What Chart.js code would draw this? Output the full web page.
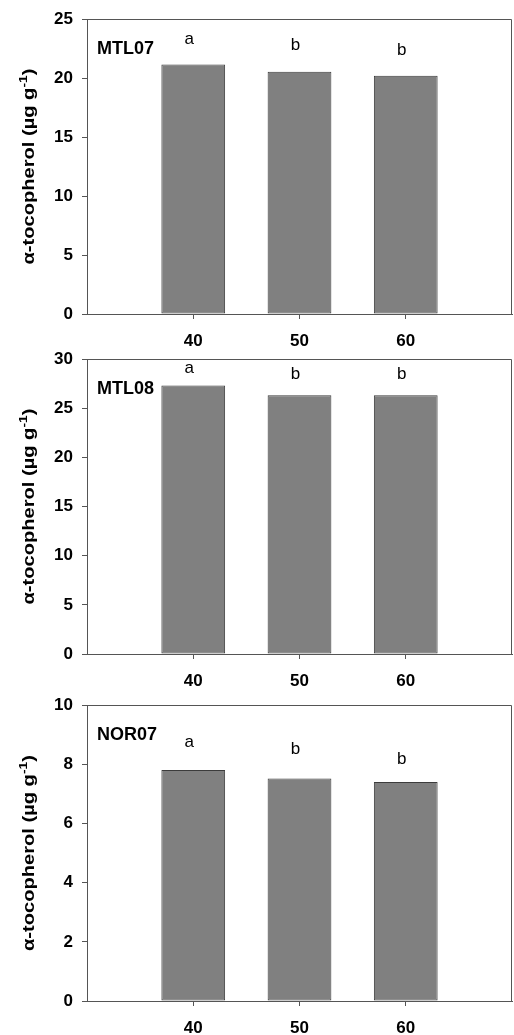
<!DOCTYPE html>
<html><head><meta charset="utf-8">
<script src="https://cdn.jsdelivr.net/npm/chart.js@4/dist/chart.umd.min.js"></script>
<style>
html,body{margin:0;padding:0;background:#fff;}
body{width:514px;height:1035px;position:relative;overflow:hidden;}
canvas{position:absolute;left:0;}
</style></head>
<body>
<canvas id="c1" width="514" height="350" style="top:0px"></canvas>
<canvas id="c2" width="514" height="350" style="top:340px"></canvas>
<canvas id="c3" width="514" height="349" style="top:686px"></canvas>
<script>
// ---- data ----
const categories = [40, 50, 60];
const xTickLabels = ['40', '50', '60'];
const mtl07 = [21.15, 20.54, 20.2];
const mtl08 = [27.33, 26.32, 26.32];
const nor07 = [7.81, 7.52, 7.40];
const letters07 = ['a', 'b', 'b'];
const letters08 = ['a', 'b', 'b'];
const lettersN07 = ['a', 'b', 'b'];
const yTicks07 = [0, 5, 10, 15, 20, 25];
const yTicks08 = [0, 5, 10, 15, 20, 25, 30];
const yTicksN07 = [0, 2, 4, 6, 8, 10];
// letter anchor heights (in data units)
const letterY07 = [23.3, 22.8, 22.4];
const letterY08 = [29.1, 28.5, 28.5];
const letterYN07 = [8.74, 8.51, 8.17];

const FONT = "'Liberation Sans', Arial, Helvetica, sans-serif";
const AXIS = '#555';

const framePlugin = {
  id: 'frame',
  afterDraw(chart, args, opts) {
    const {ctx, chartArea: a, scales} = chart;
    ctx.save();
    // top and right frame lines
    ctx.strokeStyle = AXIS; ctx.lineWidth = 1;
    ctx.beginPath();
    ctx.moveTo(a.left, Math.round(a.top) + 0.5);
    ctx.lineTo(Math.round(a.right) - 0.5, Math.round(a.top) + 0.5);
    ctx.lineTo(Math.round(a.right) - 0.5, a.bottom);
    ctx.stroke();
    // panel label
    ctx.fillStyle = '#000';
    ctx.font = 'bold 18px ' + FONT;
    ctx.textAlign = 'left'; ctx.textBaseline = 'middle';
    ctx.fillText(opts.panel, a.left + 10, a.top + 30);
    // significance letters
    ctx.font = '17px ' + FONT;
    ctx.textAlign = 'center';
    opts.letters.forEach((t, i) => {
      const x = scales.x.getPixelForValue(categories[i]) - 4;
      const y = scales.y.getPixelForValue(opts.letterY[i]);
      ctx.fillText(t, x, y);
    });
    // y axis title with superscript
    const cy = (a.top + a.bottom) / 2;
    ctx.translate(30, cy);
    ctx.rotate(-Math.PI / 2);
    const main = 'α-tocopherol (µg g';
    const sup = '-1';
    const end = ')';
    const fMain = 'bold 16px ' + FONT, fSup = 'bold 11px ' + FONT;
    ctx.font = fMain; const w1 = ctx.measureText(main).width; const w3 = ctx.measureText(end).width;
    ctx.font = fSup; const w2 = ctx.measureText(sup).width;
    const total = w1 + w2 + w3;
    ctx.scale(196 / total, 1);
    let x0 = -total / 2;
    ctx.textAlign = 'left'; ctx.textBaseline = 'middle';
    ctx.font = fMain; ctx.fillText(main, x0, 0);
    ctx.font = fSup; ctx.fillText(sup, x0 + w1, -6);
    ctx.font = fMain; ctx.fillText(end, x0 + w1 + w2, 0);
    ctx.restore();
  }
};

function makeChart(id, values, yTicks, panel, letters, letterY, padTop, xHeight) {
  const yMax = yTicks[yTicks.length - 1];
  return new Chart(document.getElementById(id), {
    type: 'bar',
    data: {
      datasets: [{
        data: categories.map((c, i) => ({x: c, y: values[i]})),
        backgroundColor: '#808080',
        borderColor: '#3c3c3c',
        borderWidth: 1,
        borderSkipped: false,
        categoryPercentage: 1,
        barPercentage: 0.6
      }]
    },
    options: {
      responsive: false,
      animation: false,
      events: [],
      layout: {padding: {top: padTop, right: 2, left: 0, bottom: 0}},
      plugins: {
        legend: {display: false},
        tooltip: {enabled: false},
        frame: {panel, letters, letterY}
      },
      scales: {
        x: {
          type: 'linear', min: 30, max: 70, offset: false,
          afterBuildTicks: s => { s.ticks = categories.map(v => ({value: v})); },
          afterFit: s => { s.height = xHeight; },
          ticks: {
            callback: (v) => xTickLabels[categories.indexOf(v)],
            font: {family: FONT, size: 17, weight: 'bold'},
            color: '#000', padding: 12, maxRotation: 0, autoSkip: false
          },
          grid: {offset: false, drawOnChartArea: false, drawTicks: true, tickLength: 5, color: AXIS},
          border: {display: true, color: AXIS, width: 1}
        },
        y: {
          min: 0, max: yMax,
          afterBuildTicks: s => { s.ticks = yTicks.map(v => ({value: v})); },
          afterFit: s => { s.width = 87; },
          ticks: {
            font: {family: FONT, size: 17, weight: 'bold'},
            color: '#000', padding: 9
          },
          grid: {drawOnChartArea: false, drawTicks: true, tickLength: 5, color: AXIS},
          border: {display: true, color: AXIS, width: 1}
        }
      }
    },
    plugins: [framePlugin]
  });
}

makeChart('c1', mtl07, yTicks07, 'MTL07', letters07, letterY07, 17, 36);
makeChart('c2', mtl08, yTicks08, 'MTL08', letters08, letterY08, 17, 36);
makeChart('c3', nor07, yTicksN07, 'NOR07', lettersN07, letterYN07, 16, 34);
</script>
</body></html>
